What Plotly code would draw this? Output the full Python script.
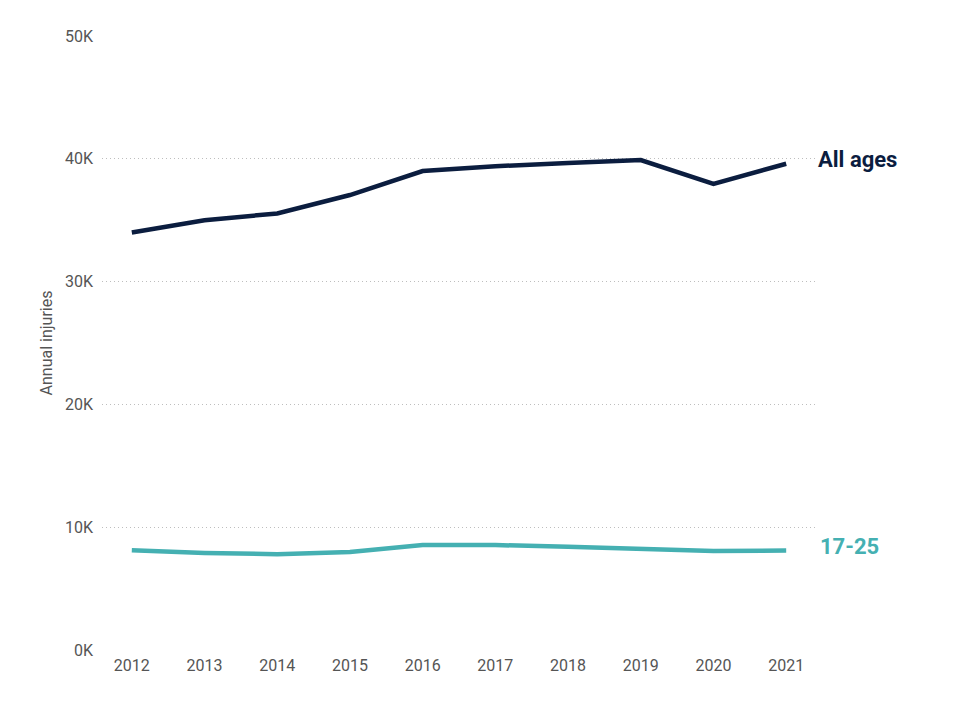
import plotly.graph_objects as go

years = [2012, 2013, 2014, 2015, 2016, 2017, 2018, 2019, 2020, 2021]
all_ages = [34000, 35000, 35550, 37050, 39000, 39400, 39650, 39900, 37950, 39600]
young = [8130, 7900, 7800, 7980, 8550, 8550, 8400, 8200, 8060, 8100]
y_ticks = [0, 10000, 20000, 30000, 40000, 50000]
y_labels = ["0K", "10K", "20K", "30K", "40K", "50K"]

navy = "#0B1D3F"
teal = "#45B0B2"
font = "Roboto"
grey = "#555555"

fig = go.Figure()
fig.add_trace(go.Scatter(x=years, y=all_ages, mode="lines",
                         line=dict(color=navy, width=4.5), hoverinfo="x+y"))
fig.add_trace(go.Scatter(x=years, y=young, mode="lines",
                         line=dict(color=teal, width=4.5), hoverinfo="x+y"))

fig.add_annotation(x=years[-1], y=all_ages[-1], xref="x", yref="y", text="<b>All ages</b>",
                   showarrow=False, xanchor="left", xshift=30, yshift=4,
                   font=dict(family=font, size=22, color=navy))
fig.add_annotation(x=years[-1], y=young[-1], xref="x", yref="y", text="<b>17-25</b>",
                   showarrow=False, xanchor="left", xshift=32, yshift=4,
                   font=dict(family=font, size=22, color=teal))

fig.update_layout(
    width=952, height=712,
    margin=dict(l=94, r=144, t=28, b=70),
    plot_bgcolor="white", paper_bgcolor="white",
    showlegend=False,
    font=dict(family=font, size=16, color=grey),
    xaxis=dict(range=[2011.59, 2021.41], tickvals=years, ticktext=[str(y) for y in years],
               showgrid=False, zeroline=False, showline=False, ticks="", ticklabelstandoff=4,
               tickfont=dict(size=16, color=grey)),
    yaxis=dict(range=[0, 50000], tickvals=y_ticks, ticktext=y_labels,
               showgrid=True, gridcolor="#BEBEBE", griddash="1px,3px", gridwidth=1,
               zeroline=False, showline=False, ticks="", ticklabelstandoff=8,
               title=dict(text="Annual injuries", font=dict(size=16, color=grey), standoff=8),
               tickfont=dict(size=16, color=grey)),
)

fig.write_html("out.html")
